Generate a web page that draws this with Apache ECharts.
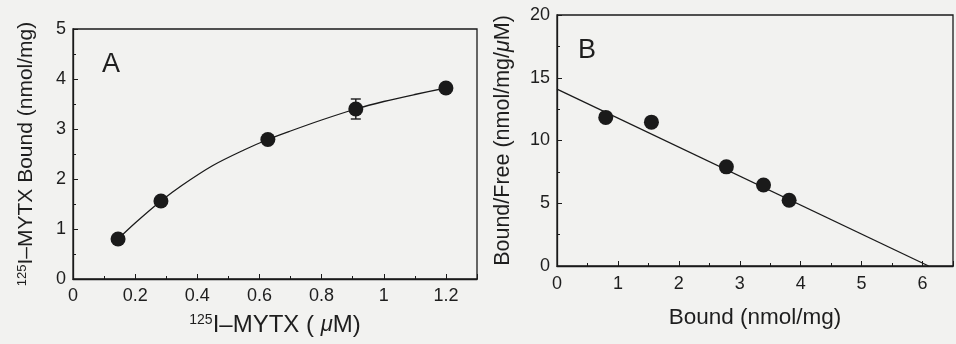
<!DOCTYPE html>
<html>
<head>
<meta charset="utf-8">
<script src="https://cdn.jsdelivr.net/npm/echarts@6/dist/echarts.min.js"></script>
<style>
  html, body { margin: 0; padding: 0; background: #f2f2f0; }
  #chart { width: 956px; height: 344px; }
</style>
</head>
<body>
<div id="chart"></div>
<script>
	// panel A : saturation binding
	var concA = [0.145, 0.283, 0.627, 0.91, 1.2];
	var boundA = [0.80, 1.56, 2.79, 3.40, 3.82];
	var errA = [0, 0, 0, 0.2, 0];
	// fitted curve
	var curveAx = [0.145, 0.2, 0.283, 0.35, 0.45, 0.55, 0.627, 0.7, 0.8, 0.91, 1.0, 1.1, 1.2];
	var curveAy = [0.80, 1.12, 1.56, 1.87, 2.27, 2.58, 2.79, 2.96, 3.18, 3.40, 3.55, 3.69, 3.82];

	// panel B : Scatchard plot
	var boundB = [0.80, 1.55, 2.78, 3.39, 3.81];
	var ratioB = [11.84, 11.46, 7.9, 6.45, 5.24];
	var fitBx = [0, 6.1];
	var fitBy = [14.1, 0];

	var ink = '#1a1a1a';
	var txt = '#1e1e1e';
	var font = 'Liberation Sans';

	function pairs(xs, ys) {
		return xs.map(function (x, i) { return [x, ys[i]]; });
	}

	function upTo(lim) {
		return function (v) { return v > lim ? '' : String(+v.toFixed(2)); };
	}

	var myChart = echarts.init(document.getElementById('chart'));

	var axisCommon = {
		axisLine: { lineStyle: { color: ink, width: 1.3 } },
		axisTick: { inside: true, length: 5, lineStyle: { color: ink } },
		minorTick: { show: true, splitNumber: 2, length: 3, lineStyle: { color: ink } },
		splitLine: { show: false },
		axisLabel: { color: txt, fontSize: 18, fontFamily: font, hideOverlap: false }
	};

	function axis(extra) {
		return echarts.util.merge(echarts.util.clone(axisCommon), extra, true);
	}

	var option = {
		backgroundColor: '#f2f2f0',
		animation: false,
		title: [
			{ text: 'A', left: 97, top: 46, textStyle: { fontSize: 27, fontWeight: 'normal', color: txt, fontFamily: font } },
			{ text: 'B', left: 573, top: 32, textStyle: { fontSize: 27, fontWeight: 'normal', color: txt, fontFamily: font } }
		],
		grid: [
			{ left: 73, top: 29, right: 479, bottom: 65, show: true, borderColor: ink, borderWidth: 1.3 },
			{ left: 557, top: 15, right: 0, bottom: 78, show: true, borderColor: ink, borderWidth: 1.3 }
		],
		xAxis: [
			axis({
				type: 'value', gridIndex: 0, min: 0, max: 1.3, interval: 0.2,
				axisLabel: { margin: 8, formatter: upTo(1.25) },
				name: '{sup|125}I–MYTX ( {it|μ}M)',
				nameLocation: 'middle', nameGap: 34,
				nameTextStyle: {
					fontSize: 24, color: txt, fontFamily: font,
					rich: {
						sup: { fontSize: 14, verticalAlign: 'top', padding: [0, 0, 9, 0], fontFamily: font, color: txt },
						it: { fontSize: 22, fontStyle: 'italic', fontFamily: font, color: txt }
					}
				}
			}),
			axis({
				type: 'value', gridIndex: 1, min: 0, max: 6.5, interval: 1,
				axisLabel: { margin: 9, formatter: upTo(6.2) },
				name: 'Bound (nmol/mg)',
				nameLocation: 'middle', nameGap: 40,
				nameTextStyle: { fontSize: 22.5, color: txt, fontFamily: font }
			})
		],
		yAxis: [
			axis({
				type: 'value', gridIndex: 0, min: 0, max: 5, interval: 1,
				axisLabel: { margin: 7 },
				name: '{sup|125}I–MYTX Bound (nmol/mg)',
				nameLocation: 'middle', nameGap: 36,
				nameTextStyle: {
					fontSize: 21, color: txt, fontFamily: font,
					rich: {
						sup: { fontSize: 13, verticalAlign: 'top', padding: [0, 0, 8, 0], fontFamily: font, color: txt }
					}
				}
			}),
			axis({
				type: 'value', gridIndex: 1, min: 0, max: 20, interval: 5,
				axisLabel: { margin: 7 },
				name: 'Bound/Free (nmol/mg/{it|μ}M)',
				nameLocation: 'middle', nameGap: 43,
				nameTextStyle: {
					fontSize: 21.5, color: txt, fontFamily: font,
					rich: {
						it: { fontSize: 21.5, fontStyle: 'italic', fontFamily: font, color: txt }
					}
				}
			})
		],
		series: [
			{
				type: 'line', xAxisIndex: 0, yAxisIndex: 0,
				data: pairs(curveAx, curveAy),
				smooth: 0.3,
				showSymbol: false,
				lineStyle: { color: ink, width: 1.3 },
				z: 2
			},
			{
				type: 'custom', xAxisIndex: 0, yAxisIndex: 0,
				data: concA.map(function (x, i) { return [x, boundA[i], errA[i]]; }),
				renderItem: function (params, api) {
					var e = api.value(2);
					if (!e) return null;
					var x = api.value(0), y = api.value(1);
					var hi = api.coord([x, y + e]);
					var lo = api.coord([x, y - e]);
					var w = 5;
					var st = { stroke: ink, lineWidth: 1.4 };
					return {
						type: 'group',
						children: [
							{ type: 'line', shape: { x1: hi[0], y1: hi[1], x2: lo[0], y2: lo[1] }, style: st },
							{ type: 'line', shape: { x1: hi[0] - w, y1: hi[1], x2: hi[0] + w, y2: hi[1] }, style: st },
							{ type: 'line', shape: { x1: lo[0] - w, y1: lo[1], x2: lo[0] + w, y2: lo[1] }, style: st }
						]
					};
				},
				z: 3
			},
			{
				type: 'scatter', xAxisIndex: 0, yAxisIndex: 0,
				data: pairs(concA, boundA),
				symbolSize: 15,
				itemStyle: { color: ink, opacity: 1 },
				z: 4
			},
			{
				type: 'line', xAxisIndex: 1, yAxisIndex: 1,
				data: pairs(fitBx, fitBy),
				showSymbol: false,
				lineStyle: { color: ink, width: 1.3 },
				z: 2
			},
			{
				type: 'scatter', xAxisIndex: 1, yAxisIndex: 1,
				data: pairs(boundB, ratioB),
				symbolSize: 15,
				itemStyle: { color: ink, opacity: 1 },
				z: 4
			}
		]
	};
	myChart.setOption(option);
</script>
</body>
</html>
